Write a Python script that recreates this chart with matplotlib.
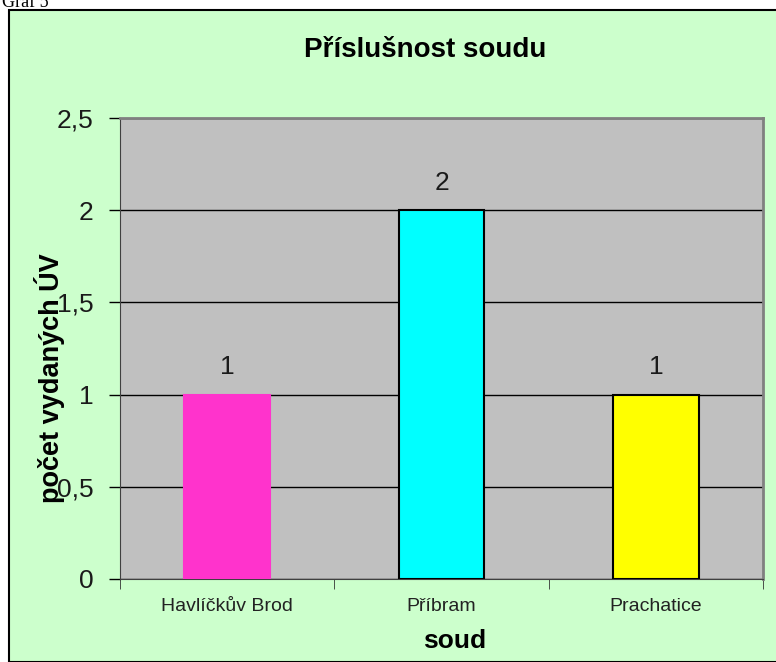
import matplotlib
matplotlib.use("Agg")
import matplotlib.pyplot as plt
from matplotlib.patches import Rectangle
from matplotlib.ticker import FuncFormatter

plt.rcParams['font.family'] = ['Liberation Sans', 'DejaVu Sans']

# data
soudy = ["Havlíčkův Brod", "Příbram", "Prachatice"]
pocty = [1, 2, 1]
barvy = ["#FF33CC", "#00FFFF", "#FFFF00"]
okraje = ["#FF33CC", "black", "black"]

W, H = 776, 662
fig = plt.figure(figsize=(W / 100, H / 100), dpi=100)
fig.patch.set_facecolor("white")

# green chart area with black frame
bg = Rectangle((9 / W, 0), 1.0, 1 - 10 / H, transform=fig.transFigure,
               facecolor="#CCFFCC", edgecolor="black", lw=1.5, zorder=-10)
fig.patches.append(bg)

fig.text(2 / W, 1 - 7 / H, "Graf 5", family="Liberation Serif",
         fontsize=13, va="baseline", ha="left")

ax = fig.add_axes([120 / W, 83 / H, 643 / W, 461 / H])
ax.set_facecolor("#C0C0C0")

x = range(len(soudy))
bars = ax.bar(x, pocty, width=0.4, color=barvy, edgecolor=okraje, lw=1.5, zorder=3)
for b, v in zip(bars, pocty):
    ax.text(b.get_x() + b.get_width() / 2, v + 0.085, str(v),
            ha="center", va="bottom", fontsize=19, color="#1a1a1a")

ax.set_xlim(-0.5, 2.5)
ax.set_ylim(0, 2.5)
ax.set_yticks([0, 0.5, 1, 1.5, 2, 2.5])
ax.yaxis.set_major_formatter(FuncFormatter(lambda v, p: ("%g" % v).replace(".", ",")))
ax.grid(axis="y", color="black", lw=1, zorder=1)

ax.set_xticks(list(x))
ax.set_xticklabels(soudy, fontsize=14, color="#222222")
ax.set_xticks([-0.5, 0.5, 1.5, 2.5], minor=True)
ax.tick_params(axis="x", which="major", length=0, pad=14)
ax.tick_params(axis="x", which="minor", length=7, color="#333333", direction="out")
ax.tick_params(axis="y", length=8, width=1, labelsize=19, pad=11, direction="out",
               labelcolor="#1a1a1a")

for s in ["top", "right"]:
    ax.spines[s].set_color("#808080")
    ax.spines[s].set_linewidth(2)
ax.spines["left"].set_color("#404040")
ax.spines["bottom"].set_color("#404040")

fig.text(425 / W, 1 - 50 / H, "Příslušnost soudu", fontsize=20,
         fontweight="bold", ha="center", va="center")
ax.set_xlabel("soud", fontsize=19, fontweight="bold")
ax.xaxis.set_label_coords(0.52, -0.108)
ax.set_ylabel("počet vydaných ÚV", fontsize=19.5, fontweight="bold")
ax.yaxis.set_label_coords(-0.086, 0.436)

fig.savefig("out.png", dpi=100)
